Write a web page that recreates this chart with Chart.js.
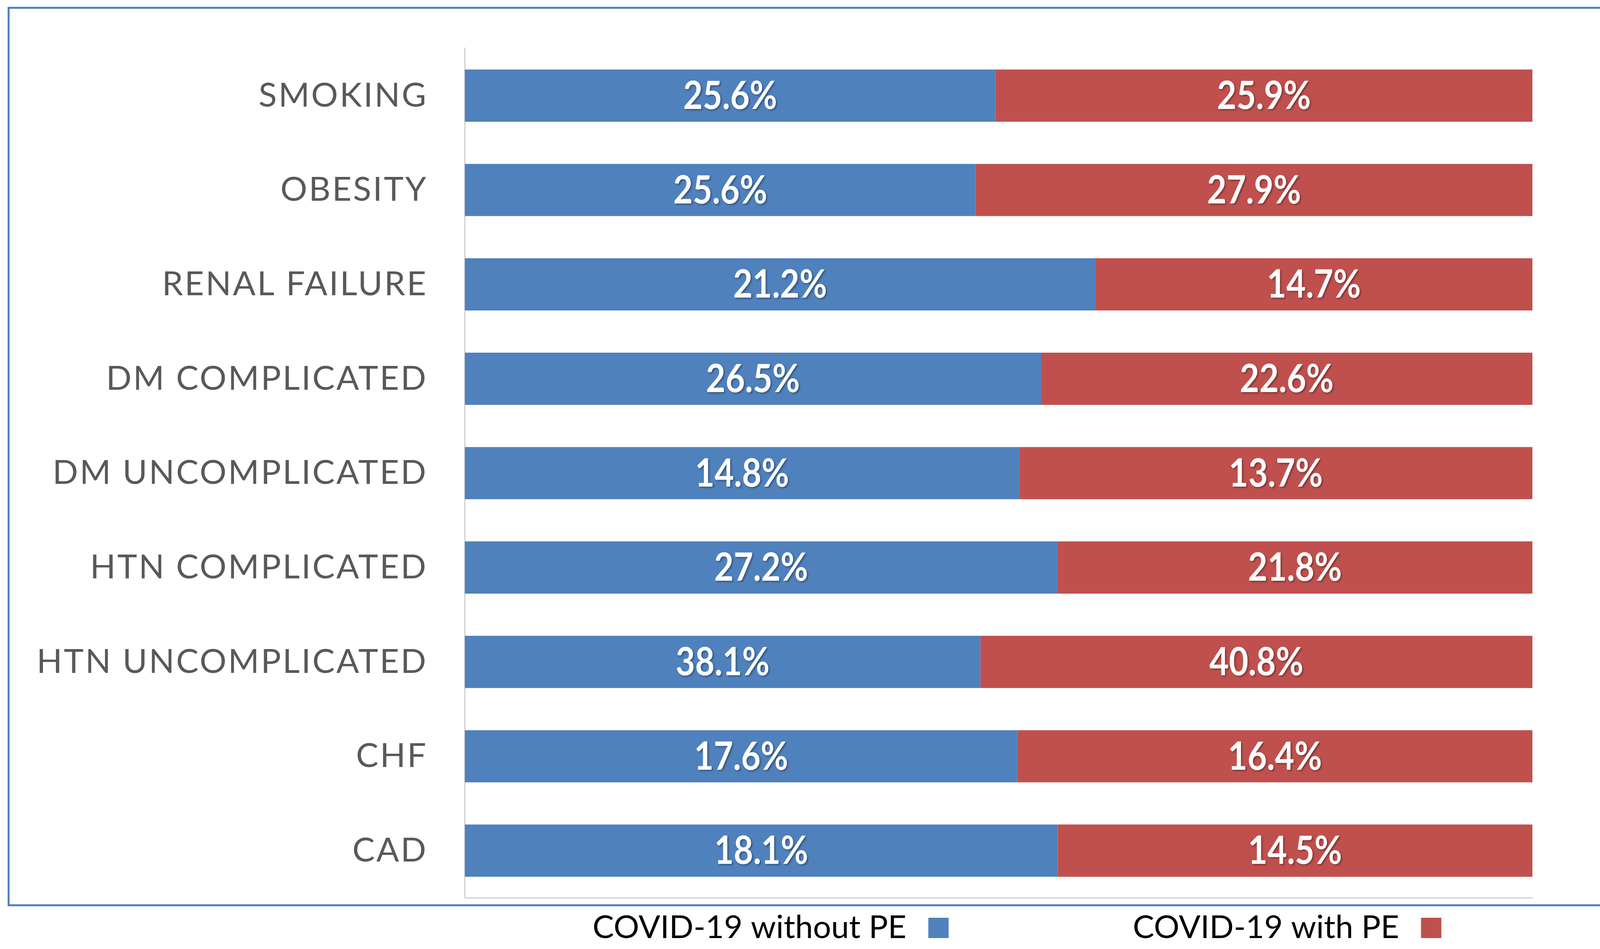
<!DOCTYPE html>
<html>
<head>
<meta charset="utf-8">
<script src="https://cdn.jsdelivr.net/npm/chart.js@4.4.1/dist/chart.umd.min.js"></script>
<style>
  html, body { margin: 0; padding: 0; background: #fff; overflow: hidden; }
  canvas { display: block; }
</style>
</head>
<body>
<canvas id="riskChart" width="4164" height="2430"></canvas>
<script>
// ─── Data ─────────────────────────────────────────────────────────────────────
const categories = ['SMOKING', 'OBESITY', 'RENAL FAILURE', 'DM COMPLICATED', 'DM UNCOMPLICATED',
                    'HTN COMPLICATED', 'HTN UNCOMPLICATED', 'CHF', 'CAD'];
const withoutPE = [25.6, 25.6, 21.2, 26.5, 14.8, 27.2, 38.1, 17.6, 18.1];
const withPE    = [25.9, 27.9, 14.7, 22.6, 13.7, 21.8, 40.8, 16.4, 14.5];
const seriesNames = ['COVID-19 without PE', 'COVID-19 with PE'];

// 100% stacked: each bar split by share of the pair
const share = (a, b) => a.map((v, i) => v / (v + b[i]) * 100);

const BLUE = '#4f81bd';
const RED = '#c0504d';

// ─── Plugins ──────────────────────────────────────────────────────────────────
const framePlugin = {
    id: 'frame',
    beforeDraw(chart) {
        const ctx = chart.ctx;
        ctx.save();
        ctx.fillStyle = '#ffffff';
        ctx.fillRect(0, 0, chart.width, chart.height);
        ctx.strokeStyle = '#4f7cbf';
        ctx.lineWidth = 5;
        ctx.strokeRect(22, 20, 4122, 2298);
        ctx.restore();
        // spaced-out category labels
        ctx.letterSpacing = '4px';
    },
    beforeDatasetsDraw(chart) {
        chart.ctx.letterSpacing = '0px';
    }
};

const valueLabels = {
    id: 'valueLabels',
    afterDatasetsDraw(chart) {
        const ctx = chart.ctx;
        chart.data.datasets.forEach((ds, i) => {
            chart.getDatasetMeta(i).data.forEach((bar, j) => {
                const p = bar.getProps(['x', 'y', 'base'], true);
                ctx.save();
                ctx.font = 'bold 100px Lato, "Open Sans", sans-serif';
                ctx.fillStyle = '#ffffff';
                ctx.textAlign = 'center';
                ctx.textBaseline = 'middle';
                ctx.shadowColor = 'rgba(0,0,0,0.35)';
                ctx.shadowOffsetX = 3;
                ctx.shadowOffsetY = 3;
                ctx.shadowBlur = 4;
                ctx.translate((p.x + p.base) / 2, p.y + 2);
                ctx.scale(0.86, 1);   // condensed look
                ctx.fillText(ds.rawValues[j].toFixed(1) + '%', 0, 0);
                ctx.restore();
            });
        });
    }
};

// legend with the swatch after the text
const legendStartX = [1517, 2900];
const trailingLegend = {
    id: 'trailingLegend',
    afterDraw(chart) {
        const ctx = chart.ctx;
        const y = 2376;
        const box = 52;
        ctx.save();
        ctx.font = '82px Lato, "Open Sans", sans-serif';
        ctx.textAlign = 'left';
        ctx.textBaseline = 'middle';
        chart.data.datasets.forEach((ds, i) => {
            const x = legendStartX[i];
            ctx.fillStyle = '#000000';
            ctx.fillText(ds.label, x, y);
            const w = ctx.measureText(ds.label).width;
            ctx.fillStyle = ds.backgroundColor;
            ctx.fillRect(x + w + 56, y - box / 2, box, box);
        });
        ctx.restore();
    }
};

// ─── Chart ────────────────────────────────────────────────────────────────────
new Chart(document.getElementById('riskChart').getContext('2d'), {
    type: 'bar',
    data: {
        labels: categories,
        datasets: [
            { label: seriesNames[0], data: share(withoutPE, withPE), rawValues: withoutPE,
              backgroundColor: BLUE, borderWidth: 0 },
            { label: seriesNames[1], data: share(withPE, withoutPE), rawValues: withPE,
              backgroundColor: RED, borderWidth: 0 }
        ]
    },
    options: {
        indexAxis: 'y',
        responsive: false,
        animation: false,
        devicePixelRatio: 1,
        layout: { padding: { top: 124, right: 241, bottom: 131, left: 0 } },
        datasets: { bar: { categoryPercentage: 1, barPercentage: 0.553 } },
        plugins: {
            legend: { display: false },
            tooltip: { enabled: false }
        },
        scales: {
            x: {
                stacked: true, min: 0, max: 100,
                grid: { display: false, drawTicks: false },
                ticks: { display: false },
                border: { display: true, color: '#d9d9d9', width: 4 },
                afterFit: s => { s.height = 0; }
            },
            y: {
                stacked: true,
                grid: { display: false, drawTicks: false },
                border: { display: true, color: '#d9d9d9', width: 4 },
                ticks: {
                    color: '#595959',
                    padding: 95,
                    font: { family: 'Lato, "Open Sans", sans-serif', size: 86, lineHeight: 0.5 }
                },
                afterFit: s => { s.width = 1190; }
            }
        }
    },
    plugins: [framePlugin, valueLabels, trailingLegend]
});
</script>
</body>
</html>
